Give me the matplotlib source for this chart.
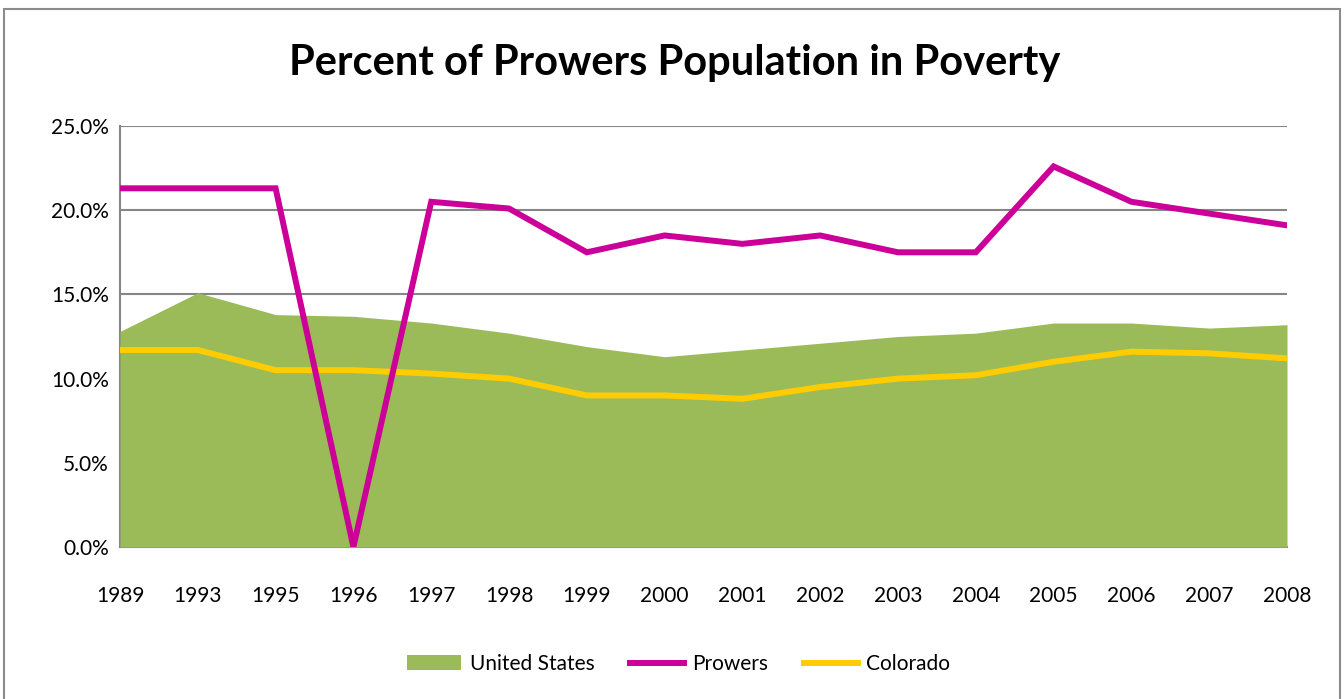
import matplotlib.pyplot as plt
from matplotlib.patches import Rectangle
from matplotlib.ticker import FuncFormatter

years = ["1989", "1993", "1995", "1996", "1997", "1998", "1999", "2000",
         "2001", "2002", "2003", "2004", "2005", "2006", "2007", "2008"]
united_states = [12.8, 15.1, 13.8, 13.7, 13.3, 12.7, 11.9, 11.3,
                 11.7, 12.1, 12.5, 12.7, 13.3, 13.3, 13.0, 13.2]
prowers = [21.3, 21.3, 21.3, 0.0, 20.5, 20.1, 17.5, 18.5,
           18.0, 18.5, 17.5, 17.5, 22.6, 20.5, 19.8, 19.1]
colorado = [11.7, 11.7, 10.5, 10.5, 10.3, 10.0, 9.0, 9.0,
            8.8, 9.5, 10.0, 10.2, 11.0, 11.6, 11.5, 11.2]

plt.rcParams['font.family'] = ['Lato', 'DejaVu Sans']

fig = plt.figure(figsize=(13.44, 6.99), dpi=100)
ax = fig.add_axes([120 / 1344, 1 - 547 / 699, (1287 - 120) / 1344, (547 - 126) / 699])

x = list(range(len(years)))
us_fill = ax.fill_between(x, 0, united_states, color="#9BBB59", linewidth=0,
                          label="United States", zorder=2)
prowers_line, = ax.plot(x, prowers, color="#CC0099", linewidth=4.3, label="Prowers",
                        zorder=4, solid_joinstyle="miter")
colorado_line, = ax.plot(x, colorado, color="#FFCC00", linewidth=4.3, label="Colorado",
                         zorder=3, solid_joinstyle="miter")

ax.set_xlim(0, len(years) - 1)
ax.set_ylim(0, 25)
ax.set_yticks([0, 5, 10, 15, 20, 25])
ax.yaxis.set_major_formatter(FuncFormatter(lambda v, p: f"{v:.1f}%"))
ax.set_xticks(x)
ax.set_xticklabels(years)
ax.tick_params(axis="both", length=0, labelsize=15, colors="black")
ax.tick_params(axis="x", pad=28)
ax.tick_params(axis="y", pad=8)

ax.grid(True, axis="y", color="#868686", linewidth=1.5, zorder=1)
ax.set_axisbelow(True)
for side in ["top", "right"]:
    ax.spines[side].set_visible(False)
for side in ["left", "bottom"]:
    ax.spines[side].set_color("#868686")
    ax.spines[side].set_linewidth(1.5)
    ax.spines[side].set_zorder(1)

fig.text(0.502, 1 - 63 / 699, "Percent of Prowers Population in Poverty",
         ha="center", va="center", fontsize=30, fontweight="bold")

fig.legend([us_fill, prowers_line, colorado_line],
           ["United States", "Prowers", "Colorado"],
           loc="center", bbox_to_anchor=(0.505, 1 - 664 / 699), ncol=3,
           frameon=False, fontsize=15, handlelength=2.6, columnspacing=1.7,
           handletextpad=0.4)

fig.patches.append(Rectangle((4 / 1344, -0.05), 1336 / 1344, 1 - 9 / 699 + 0.05,
                             transform=fig.transFigure, fill=False,
                             edgecolor="#8C8C8C", linewidth=1.5))

fig.savefig("out.png", dpi=100)
